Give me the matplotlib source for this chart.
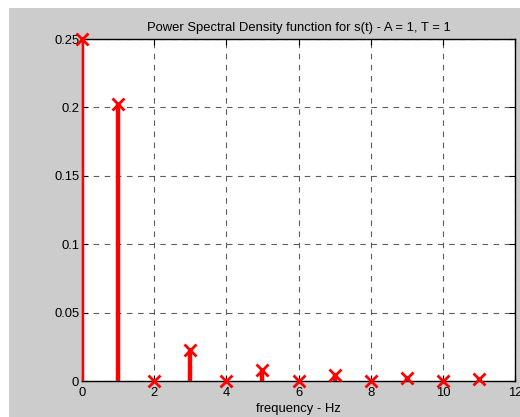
import matplotlib
matplotlib.use("Agg")
import matplotlib.pyplot as plt
from matplotlib.patches import Rectangle

freqs = [0, 1, 2, 3, 4, 5, 6, 7, 8, 9, 10, 11]
psd = [0.25, 0.2026, 0.0, 0.0225, 0.0, 0.0081, 0.0, 0.0041, 0.0, 0.0025, 0.0, 0.0017]
xticks = [0, 2, 4, 6, 8, 10, 12]
yticks = [0, 0.05, 0.1, 0.15, 0.2, 0.25]
ytick_labels = ["0", "0.05", "0.1", "0.15", "0.2", "0.25"]
title = "Power Spectral Density function for s(t) - A = 1, T = 1"
xlabel = "frequency - Hz"

plt.rcParams['font.family'] = ['Liberation Sans', 'DejaVu Sans']
fs = 9.4

fig = plt.figure(figsize=(5.2, 4.17), dpi=100)
fig.patch.set_facecolor('white')
fig.patches.append(Rectangle((9/520, 0), 1 - 9/520, 1 - 8/417, transform=fig.transFigure,
                             facecolor='#cccccc', edgecolor='none', zorder=-10))

W, H = 520, 417
left, right, top, bottom = 82, 515, 39, 381
ax = fig.add_axes([left / W, 1 - bottom / H, (right - left) / W, (bottom - top) / H])
ax.set_facecolor('white')

ax.vlines(freqs, 0, psd, colors='red', linewidth=3.2, zorder=3)
ax.plot(freqs, psd, linestyle='none', marker='x', color='red', markersize=8,
        markeredgewidth=2, zorder=4, clip_on=False)

ax.set_xlim(0, 12)
ax.set_ylim(0, 0.25)
ax.set_xticks(xticks)
ax.set_yticks(yticks)
ax.set_yticklabels(ytick_labels)
ax.grid(True, linestyle=(0, (5, 5)), color='#404040', linewidth=0.8, alpha=0.85)
ax.set_axisbelow(True)
ax.tick_params(direction='in', top=True, right=True, length=4, width=0.8, labelsize=fs)
ax.tick_params(axis='x', pad=4)
ax.tick_params(axis='y', pad=2)
for s in ax.spines.values():
    s.set_linewidth(1.0)
    s.set_color('black')
ax.set_title(title, fontsize=fs, pad=6)
ax.set_xlabel(xlabel, fontsize=fs, labelpad=3)

fig.savefig('out.png', dpi=100, facecolor=fig.get_facecolor())
